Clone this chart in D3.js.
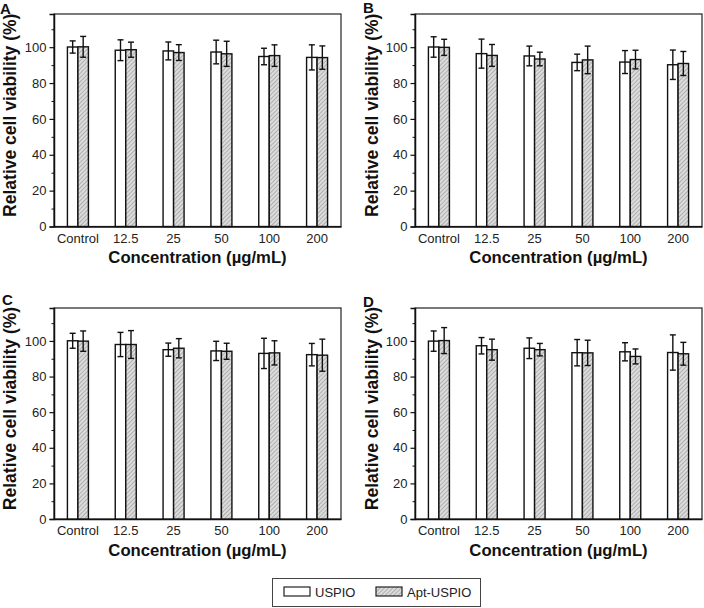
<!DOCTYPE html>
<html>
<head>
<meta charset="utf-8">
<script src="https://cdn.jsdelivr.net/npm/d3@7"></script>
<style>
  html, body { margin: 0; padding: 0; background: #fff; }
  svg { display: block; font-family: "Liberation Sans", Arial, sans-serif; }
</style>
</head>
<body>
<svg id="chart" width="704" height="608"></svg>
<script>
// ---- Data ----
const categories = ["Control", "12.5", "25", "50", "100", "200"];
const seriesNames = ["USPIO", "Apt-USPIO"];
const yTicks = [0, 20, 40, 60, 80, 100];

// panel A
const aUspio = [100.1, 98.3, 97.9, 97.3, 94.8, 94.3];
const aUspioErr = [3.4, 5.8, 5.0, 6.6, 4.6, 7.0];
const aApt = [100.2, 98.6, 97.0, 96.3, 95.3, 94.2];
const aAptErr = [5.8, 4.2, 4.4, 7.0, 6.0, 6.5];

// panel B
const bUspio = [100.1, 96.4, 95.1, 91.5, 91.7, 90.2];
const bUspioErr = [5.7, 8.1, 5.5, 4.6, 6.4, 8.2];
const bApt = [99.9, 95.4, 93.4, 92.9, 93.1, 90.9];
const bAptErr = [4.5, 6.1, 3.8, 7.7, 5.2, 6.7];

// panel C
const cUspio = [100.1, 98.0, 95.1, 94.4, 93.0, 92.3];
const cUspioErr = [4.2, 6.8, 3.7, 5.4, 8.5, 6.3];
const cApt = [99.9, 98.0, 95.9, 94.2, 93.3, 92.0];
const cAptErr = [5.7, 7.8, 5.4, 4.5, 6.8, 9.0];

// panel D
const dUspio = [99.9, 97.3, 95.9, 93.4, 93.9, 93.5];
const dUspioErr = [5.7, 4.6, 5.8, 7.4, 5.1, 9.9];
const dApt = [100.2, 95.1, 95.1, 93.3, 91.3, 92.8];
const dAptErr = [7.3, 5.9, 3.5, 7.1, 4.2, 6.4];

// ---- Layout for each panel ----
const panels = [
  { letter: "A", lx: 0, ly: 14, left: 54, right: 341, top: 14, bottom: 226.5, labX: 16,
    uspio: aUspio, uspioErr: aUspioErr, apt: aApt, aptErr: aAptErr },
  { letter: "B", lx: 363, ly: 13, left: 415, right: 702, top: 14, bottom: 226.5, labX: 378,
    uspio: bUspio, uspioErr: bUspioErr, apt: bApt, aptErr: bAptErr },
  { letter: "C", lx: 2, ly: 305, left: 54, right: 341, top: 308, bottom: 519, labX: 16,
    uspio: cUspio, uspioErr: cUspioErr, apt: cApt, aptErr: cAptErr },
  { letter: "D", lx: 363, ly: 307, left: 415, right: 702, top: 308, bottom: 519, labX: 378,
    uspio: dUspio, uspioErr: dUspioErr, apt: dApt, aptErr: dAptErr }
];

const svg = d3.select("#chart");

// hatch pattern for Apt-USPIO bars
const defs = svg.append("defs");
const pat = defs.append("pattern")
  .attr("id", "hatch")
  .attr("patternUnits", "userSpaceOnUse")
  .attr("width", 3).attr("height", 3)
  .attr("patternTransform", "rotate(45)");
pat.append("rect").attr("width", 3).attr("height", 3).attr("fill", "#dcdcdc");
pat.append("line")
  .attr("x1", 0).attr("y1", 0).attr("x2", 0).attr("y2", 3)
  .attr("stroke", "#8a8a8a").attr("stroke-width", 1.1);

const fills = { "USPIO": "#fff", "Apt-USPIO": "url(#hatch)" };

panels.forEach(p => drawPanel(p));

function drawPanel(p) {
  const g = svg.append("g");

  const x = d3.scaleBand().domain(categories).range([p.left, p.right]).padding(0);
  const x1 = d3.scaleBand().domain(seriesNames).range([-10.5, 10.5]).padding(0);
  const y = d3.scaleLinear().domain([0, 118.5]).range([p.bottom, p.top]);

  // frame
  g.append("rect")
    .attr("x", p.left).attr("y", p.top)
    .attr("width", p.right - p.left).attr("height", p.bottom - p.top)
    .attr("fill", "none").attr("stroke", "#222").attr("stroke-width", 1.2);

  // y axis with major + minor ticks
  const yAxis = d3.axisLeft(y).tickValues(yTicks).tickSize(4.5).tickPadding(3);
  const ya = g.append("g").attr("transform", `translate(${p.left},0)`).call(yAxis);
  ya.select(".domain").attr("stroke", "#111").attr("stroke-width", 1.5);
  ya.selectAll(".tick line").attr("stroke", "#111").attr("stroke-width", 1.2);
  ya.selectAll(".tick text").attr("font-size", 13).attr("fill", "#222");

  const minor = d3.axisLeft(y).tickValues([10, 30, 50, 70, 90, 110]).tickSize(2.5).tickFormat("");
  const ym = g.append("g").attr("transform", `translate(${p.left},0)`).call(minor);
  ym.select(".domain").remove();
  ym.selectAll(".tick line").attr("stroke", "#111").attr("stroke-width", 1);

  // x axis (labels only)
  const xAxis = d3.axisBottom(x).tickSize(0).tickPadding(7);
  const xa = g.append("g").attr("transform", `translate(0,${p.bottom})`).call(xAxis);
  xa.select(".domain").attr("stroke", "#111").attr("stroke-width", 1.5);
  xa.selectAll(".tick text").attr("font-size", 13).attr("fill", "#222");

  // bars
  const rows = [];
  categories.forEach((c, i) => {
    rows.push({ cat: c, s: "USPIO", v: p.uspio[i], e: p.uspioErr[i] });
    rows.push({ cat: c, s: "Apt-USPIO", v: p.apt[i], e: p.aptErr[i] });
  });
  const cx = d => x(d.cat) + x.bandwidth() / 2 + x1(d.s);

  g.selectAll(".bar").data(rows).enter().append("rect")
    .attr("class", "bar")
    .attr("x", d => cx(d))
    .attr("y", d => y(d.v))
    .attr("width", x1.bandwidth())
    .attr("height", d => y(0) - y(d.v))
    .attr("fill", d => fills[d.s])
    .attr("stroke", "#111").attr("stroke-width", 1.4);

  // error bars
  const mid = d => cx(d) + x1.bandwidth() / 2;
  const eb = g.selectAll(".err").data(rows).enter().append("g").attr("class", "err")
    .attr("stroke", "#111").attr("stroke-width", 1.4);
  eb.append("line").attr("x1", mid).attr("x2", mid)
    .attr("y1", d => y(d.v + d.e)).attr("y2", d => y(d.v - d.e));
  eb.append("line").attr("x1", d => mid(d) - 3).attr("x2", d => mid(d) + 3)
    .attr("y1", d => y(d.v + d.e)).attr("y2", d => y(d.v + d.e));
  eb.append("line").attr("x1", d => mid(d) - 3).attr("x2", d => mid(d) + 3)
    .attr("y1", d => y(d.v - d.e)).attr("y2", d => y(d.v - d.e));

  // axis titles
  g.append("text")
    .attr("x", (p.left + p.right) / 2).attr("y", p.bottom + 36.5)
    .attr("text-anchor", "middle")
    .attr("font-size", 16.7).attr("font-weight", "bold").attr("fill", "#111")
    .text("Concentration (µg/mL)");

  g.append("text")
    .attr("transform", `translate(${p.labX},${(p.top + p.bottom) / 2 - 5}) rotate(-90)`)
    .attr("text-anchor", "middle")
    .attr("font-size", 17.5).attr("font-weight", "bold").attr("fill", "#111")
    .text("Relative cell viability (%)");

  // panel letter
  g.append("text")
    .attr("x", p.lx).attr("y", p.ly)
    .attr("font-size", 15).attr("font-weight", "bold").attr("fill", "#111")
    .text(p.letter);
}

// ---- Legend ----
const lg = svg.append("g");
lg.append("rect")
  .attr("x", 272.5).attr("y", 578.5).attr("width", 208).attr("height", 28)
  .attr("fill", "#fff").attr("stroke", "#444").attr("stroke-width", 1);
const legendX = [284, 376];
seriesNames.forEach((s, i) => {
  lg.append("rect")
    .attr("x", legendX[i]).attr("y", 587).attr("width", 26).attr("height", 9)
    .attr("fill", fills[s]).attr("stroke", "#222").attr("stroke-width", 1.2);
  lg.append("text")
    .attr("x", legendX[i] + 31).attr("y", 596.5)
    .attr("font-size", 13).attr("fill", "#222")
    .text(s);
});
</script>
</body>
</html>
